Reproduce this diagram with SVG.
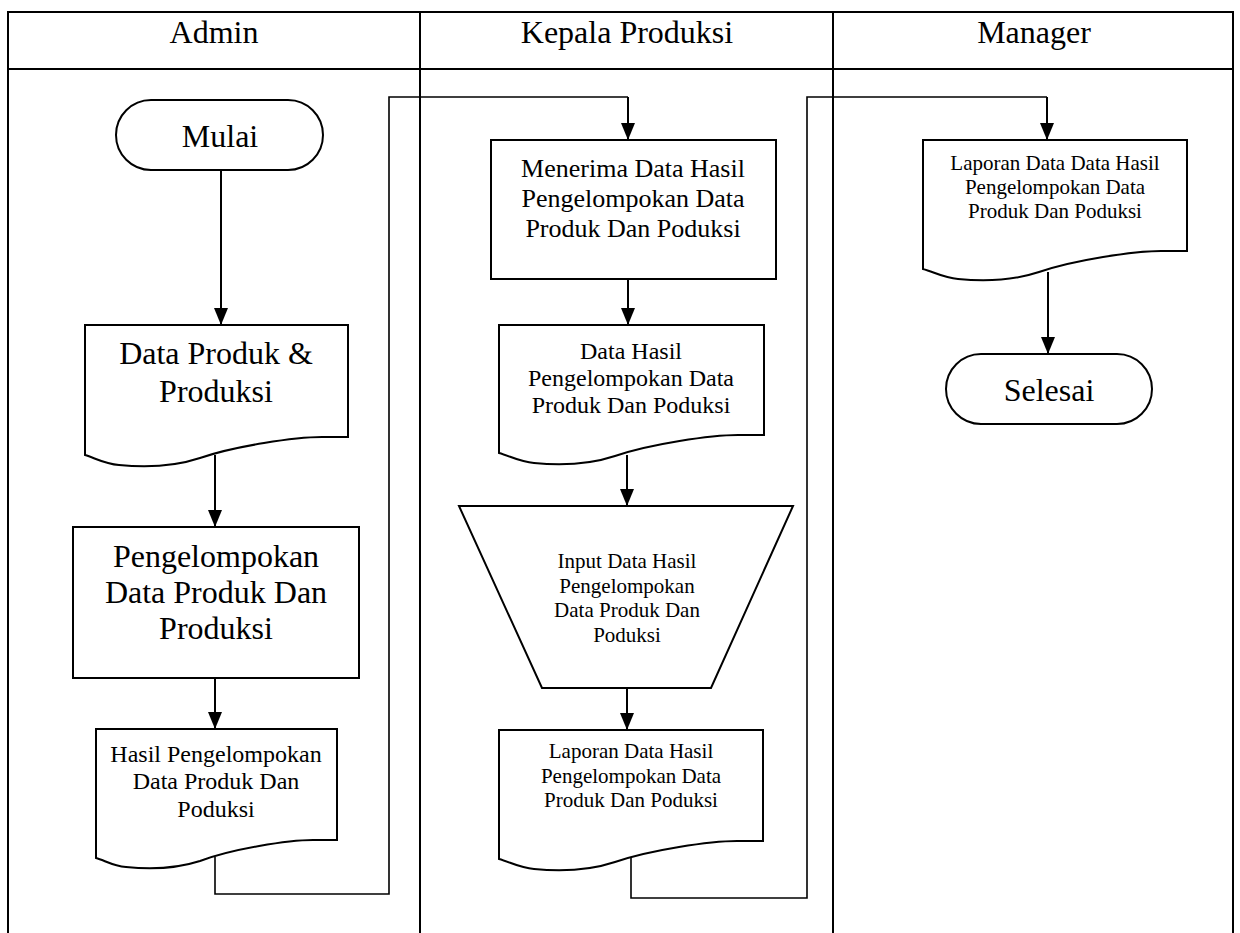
<svg xmlns="http://www.w3.org/2000/svg" width="1240" height="933" viewBox="0 0 1240 933">
  <style>
    .frame { fill: none; stroke: #000; stroke-width: 2; }
    .shape { fill: #fff; stroke: #000; stroke-width: 2; }
    .flow { fill: none; stroke: #000; stroke-width: 2; }
    .link { fill: none; stroke: #000; stroke-width: 1.6; }
    text { font-family: "Liberation Serif", "Times New Roman", serif; fill: #000; text-anchor: middle; }
    .hdr { font-size: 32px; }
    .big { font-size: 32px; }
    .mid { font-size: 26px; }
    .sm { font-size: 24px; }
    .xs { font-size: 21px; }
  </style>
  <defs>
    <marker id="arrow" markerUnits="userSpaceOnUse" markerWidth="17" markerHeight="14" refX="17" refY="7" orient="auto">
      <path d="M0,0 L17,7 L0,14 z" fill="#000"/>
    </marker>
  </defs>

  <rect width="1240" height="933" fill="#fff"/>

  <!-- swimlane table -->
  <g id="lanes">
    <path class="frame" d="M8,934 V12 H1233 V934"/>
    <line class="frame" x1="8" y1="69" x2="1233" y2="69"/>
    <line class="frame" x1="420" y1="12" x2="420" y2="934"/>
    <line class="frame" x1="833" y1="12" x2="833" y2="934"/>
    <text class="hdr" x="214" y="43">Admin</text>
    <text class="hdr" x="627" y="43">Kepala Produksi</text>
    <text class="hdr" x="1034" y="43">Manager</text>
  </g>

  <!-- connectors -->
  <g id="connectors">
    <line class="flow" x1="221" y1="170" x2="221" y2="325" marker-end="url(#arrow)"/>
    <line class="flow" x1="215" y1="455" x2="215" y2="527" marker-end="url(#arrow)"/>
    <line class="flow" x1="215" y1="678" x2="215" y2="729" marker-end="url(#arrow)"/>
    <path class="link" d="M215,857 V894 H389 V97 H628"/>
    <line class="flow" x1="628" y1="97" x2="628" y2="140" marker-end="url(#arrow)"/>
    <line class="flow" x1="628" y1="279" x2="628" y2="325" marker-end="url(#arrow)"/>
    <line class="flow" x1="627" y1="455" x2="627" y2="506" marker-end="url(#arrow)"/>
    <line class="flow" x1="627" y1="688" x2="627" y2="730" marker-end="url(#arrow)"/>
    <path class="link" d="M631,858 V898 H807 V97 H1047"/>
    <line class="flow" x1="1047" y1="97" x2="1047" y2="140" marker-end="url(#arrow)"/>
    <line class="flow" x1="1048" y1="272" x2="1048" y2="354" marker-end="url(#arrow)"/>
  </g>

  <!-- Admin lane -->
  <g id="mulai">
    <rect class="shape" x="116" y="100" width="207" height="70" rx="35" ry="35"/>
    <text class="big" x="220" y="147">Mulai</text>
  </g>

  <g id="data-produk">
    <path class="shape" d="M85,325 H348 V437 L322,437 C295,437 235,446 200,458 C170,468 140,467 119,465 C105,464 95,458 85,455 Z"/>
    <text class="big"><tspan x="216" y="364">Data Produk &amp;</tspan><tspan x="216" y="402">Produksi</tspan></text>
  </g>

  <g id="pengelompokan">
    <rect class="shape" x="73" y="527" width="286" height="151"/>
    <text class="big"><tspan x="216" y="567">Pengelompokan</tspan><tspan x="216" y="603">Data Produk Dan</tspan><tspan x="216" y="639">Produksi</tspan></text>
  </g>

  <g id="hasil-pengelompokan">
    <path class="shape" d="M96,729 H337 V840 L313,840 C288,840 232,849 200,861 C172,870 145,869 126,867 C113,866 104,860 96,858 Z"/>
    <text class="sm"><tspan x="216" y="762">Hasil Pengelompokan</tspan><tspan x="216" y="789">Data Produk Dan</tspan><tspan x="216" y="817">Poduksi</tspan></text>
  </g>

  <!-- Kepala Produksi lane -->
  <g id="menerima">
    <rect class="shape" x="491" y="140" width="285" height="139"/>
    <text class="mid"><tspan x="633" y="177">Menerima Data Hasil</tspan><tspan x="633" y="207">Pengelompokan Data</tspan><tspan x="633" y="237">Produk Dan Poduksi</tspan></text>
  </g>

  <g id="data-hasil">
    <path class="shape" d="M499,325 H764 V435 L738,435 C711,435 650,444 615,456 C585,466 555,465 534,463 C520,462 510,456 499,453 Z"/>
    <text class="sm"><tspan x="631" y="359">Data Hasil</tspan><tspan x="631" y="386">Pengelompokan Data</tspan><tspan x="631" y="413">Produk Dan Poduksi</tspan></text>
  </g>

  <g id="input-data">
    <path class="shape" d="M459,506 H793 L711,688 H542 Z"/>
    <text class="xs"><tspan x="627" y="568">Input Data Hasil</tspan><tspan x="627" y="593">Pengelompokan</tspan><tspan x="627" y="617">Data Produk Dan</tspan><tspan x="627" y="642">Poduksi</tspan></text>
  </g>

  <g id="laporan-kepala">
    <path class="shape" d="M499,730 H763 V841 L737,841 C710,841 650,850 615,862 C585,872 555,871 534,869 C520,868 510,862 499,859 Z"/>
    <text class="xs"><tspan x="631" y="758">Laporan Data Hasil</tspan><tspan x="631" y="783">Pengelompokan Data</tspan><tspan x="631" y="807">Produk Dan Poduksi</tspan></text>
  </g>

  <!-- Manager lane -->
  <g id="laporan-manager">
    <path class="shape" d="M923,140 H1187 V251 L1161,251 C1134,251 1074,260 1039,272 C1009,282 979,281 958,279 C944,278 934,272 923,269 Z"/>
    <text class="xs"><tspan x="1055" y="170">Laporan Data Data Hasil</tspan><tspan x="1055" y="194">Pengelompokan Data</tspan><tspan x="1055" y="218">Produk Dan Poduksi</tspan></text>
  </g>

  <g id="selesai">
    <rect class="shape" x="946" y="354" width="206" height="70" rx="35" ry="35"/>
    <text class="big" x="1049" y="401">Selesai</text>
  </g>
</svg>
